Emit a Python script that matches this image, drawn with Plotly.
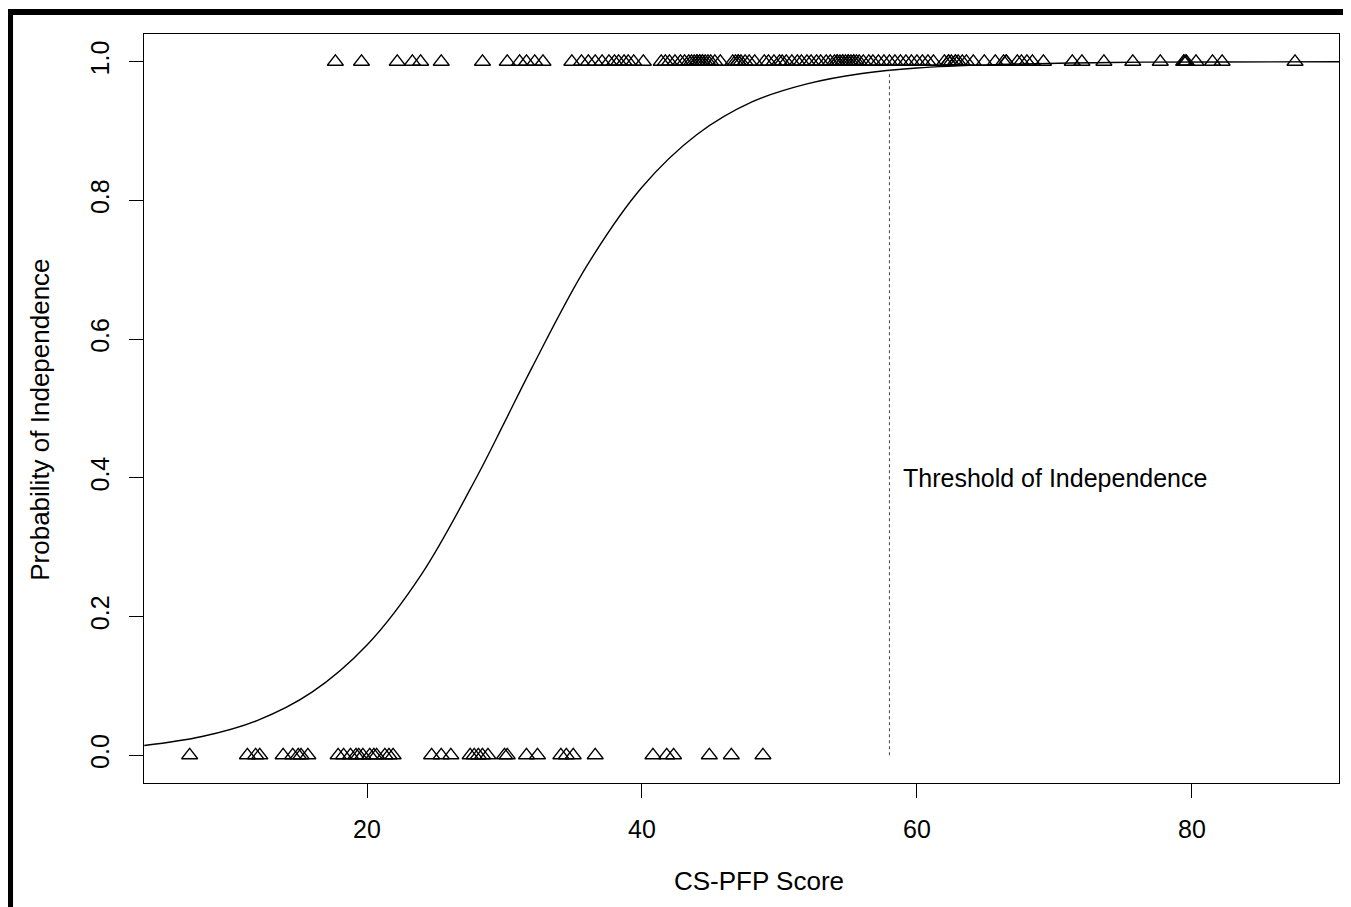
import plotly.graph_objects as go

# ---- data ----
# CS-PFP scores of independent subjects (plotted at probability 1)
score_independent = [
    17.7, 19.6, 22.2, 23.3, 23.9, 25.4, 28.4, 30.2, 31.1, 31.6, 32.2, 32.8,
    34.9, 35.6, 36.1, 36.6, 37.1, 37.6, 38.0, 38.3, 38.7, 39.0, 39.4, 40.1,
    41.4, 41.7, 42.0, 42.4, 42.8, 43.1, 43.4, 43.6, 43.8, 44.0, 44.0, 44.2,
    44.2, 44.4, 44.4, 44.6, 44.8, 45.0, 45.3, 45.7,
    46.6, 46.8, 47.0, 47.0, 47.2, 47.5, 47.8, 48.2,
    48.9, 49.2, 49.6, 50.0, 50.2, 50.5, 50.9, 51.3, 51.6, 52.0, 52.3, 52.7,
    53.0, 53.4, 53.7, 54.0, 54.2, 54.2, 54.4, 54.6, 54.6, 54.8, 55.0, 55.0,
    55.2, 55.4, 55.4, 55.6, 55.8, 56.1, 56.5, 56.8, 57.2, 57.6, 58.0, 58.4,
    58.8, 59.2, 59.6, 60.0, 60.4, 60.8, 61.2,
    62.0, 62.3, 62.3, 62.5, 62.8, 62.8, 63.0, 63.3, 63.6,
    64.1, 64.9, 65.7, 66.3, 66.5, 66.5, 67.3, 67.6, 68.0, 68.4, 69.2,
    71.3, 72.0, 73.6, 75.7, 77.7, 79.4, 79.5, 79.6, 80.3, 81.5, 82.2, 87.5,
]
# CS-PFP scores of dependent subjects (plotted at probability 0)
score_dependent = [
    7.1, 11.3, 11.9, 12.2, 13.9, 14.6, 15.0, 15.2, 15.7, 17.9, 18.3, 18.8,
    19.2, 19.4, 19.7, 20.2, 20.5, 20.7, 21.3, 21.6, 21.9, 24.7, 25.4, 26.1,
    27.5, 27.8, 28.1, 28.4, 28.8, 30.0, 30.2, 31.6, 32.4, 34.1, 34.5, 35.0,
    36.6, 40.8, 41.8, 42.3, 44.9, 46.5, 48.8,
]
# fitted probability curve
curve_score = [3.8, 8, 12, 16, 20, 24, 28, 30, 32, 36, 40, 44, 48, 52, 56,
               60, 66, 74, 82, 90.7]
curve_prob = [0.014, 0.027, 0.050, 0.091, 0.159, 0.262, 0.402, 0.48, 0.559,
              0.706, 0.819, 0.895, 0.942, 0.968, 0.983, 0.991, 0.996, 0.999,
              0.9997, 1.0]
threshold_score = 58
threshold_prob_top = 0.988
threshold_label = "Threshold of Independence"
x_ticks = [20, 40, 60, 80]
y_ticks = [0.0, 0.2, 0.4, 0.6, 0.8, 1.0]

FONT = "Liberation Sans, Arial, sans-serif"

fig = go.Figure()

tri = dict(symbol="triangle-up-open", size=14, color="black",
           line=dict(width=1.3, color="black"))
fig.add_trace(go.Scatter(x=score_independent, y=[1] * len(score_independent),
                         mode="markers", marker=tri, showlegend=False))
fig.add_trace(go.Scatter(x=score_dependent, y=[0] * len(score_dependent),
                         mode="markers", marker=tri, showlegend=False))
fig.add_trace(go.Scatter(x=curve_score, y=curve_prob, mode="lines",
                         line=dict(color="black", width=1.4, shape="spline"),
                         showlegend=False))
fig.add_trace(go.Scatter(x=[threshold_score, threshold_score],
                         y=[0, threshold_prob_top], mode="lines",
                         line=dict(color="#444", width=1, dash="dot"),
                         showlegend=False))

fig.add_annotation(x=threshold_score, y=0.4, xref="x", yref="y",
                   text=threshold_label, showarrow=False, xanchor="left",
                   yanchor="middle", xshift=12,
                   font=dict(family=FONT, size=25, color="black"))

# axis titles
fig.add_annotation(x=0.515, y=-0.131, xref="paper", yref="paper",
                   text="CS-PFP Score", showarrow=False, xanchor="center",
                   yanchor="middle", font=dict(family=FONT, size=26, color="black"))
fig.add_annotation(x=-0.087, y=0.485, xref="paper", yref="paper",
                   text="Probability of Independence", showarrow=False,
                   textangle=-90, xanchor="center", yanchor="middle",
                   font=dict(family=FONT, size=26, color="black"))

# outer frame (top and left black bands)
fig.add_shape(type="line", xref="paper", yref="paper", x0=-0.12, x1=1.02,
              y0=1.0294, y1=1.0294, line=dict(color="black", width=6))
fig.add_shape(type="line", xref="paper", yref="paper", x0=-0.1121, x1=-0.1121,
              y0=-0.2, y1=1.0334, line=dict(color="black", width=6))

axis_common = dict(showgrid=False, zeroline=False, showline=True, mirror=True,
                   linecolor="black", linewidth=1, ticks="outside", ticklen=14,
                   tickcolor="black", tickwidth=1,
                   tickfont=dict(family=FONT, size=25, color="black"))
fig.update_xaxes(range=[3.78, 90.7], tickvals=x_ticks, ticklabelstandoff=10,
                 **axis_common)
fig.update_yaxes(range=[-0.04, 1.04], tickvals=y_ticks, tickformat=".1f",
                 tickangle=-90, ticklabelstandoff=10, **axis_common)

fig.update_layout(width=1343, height=899, plot_bgcolor="white",
                  paper_bgcolor="white",
                  margin=dict(l=136, r=12, t=26, b=124),
                  font=dict(family=FONT, color="black"))

fig.write_html("out.html")
